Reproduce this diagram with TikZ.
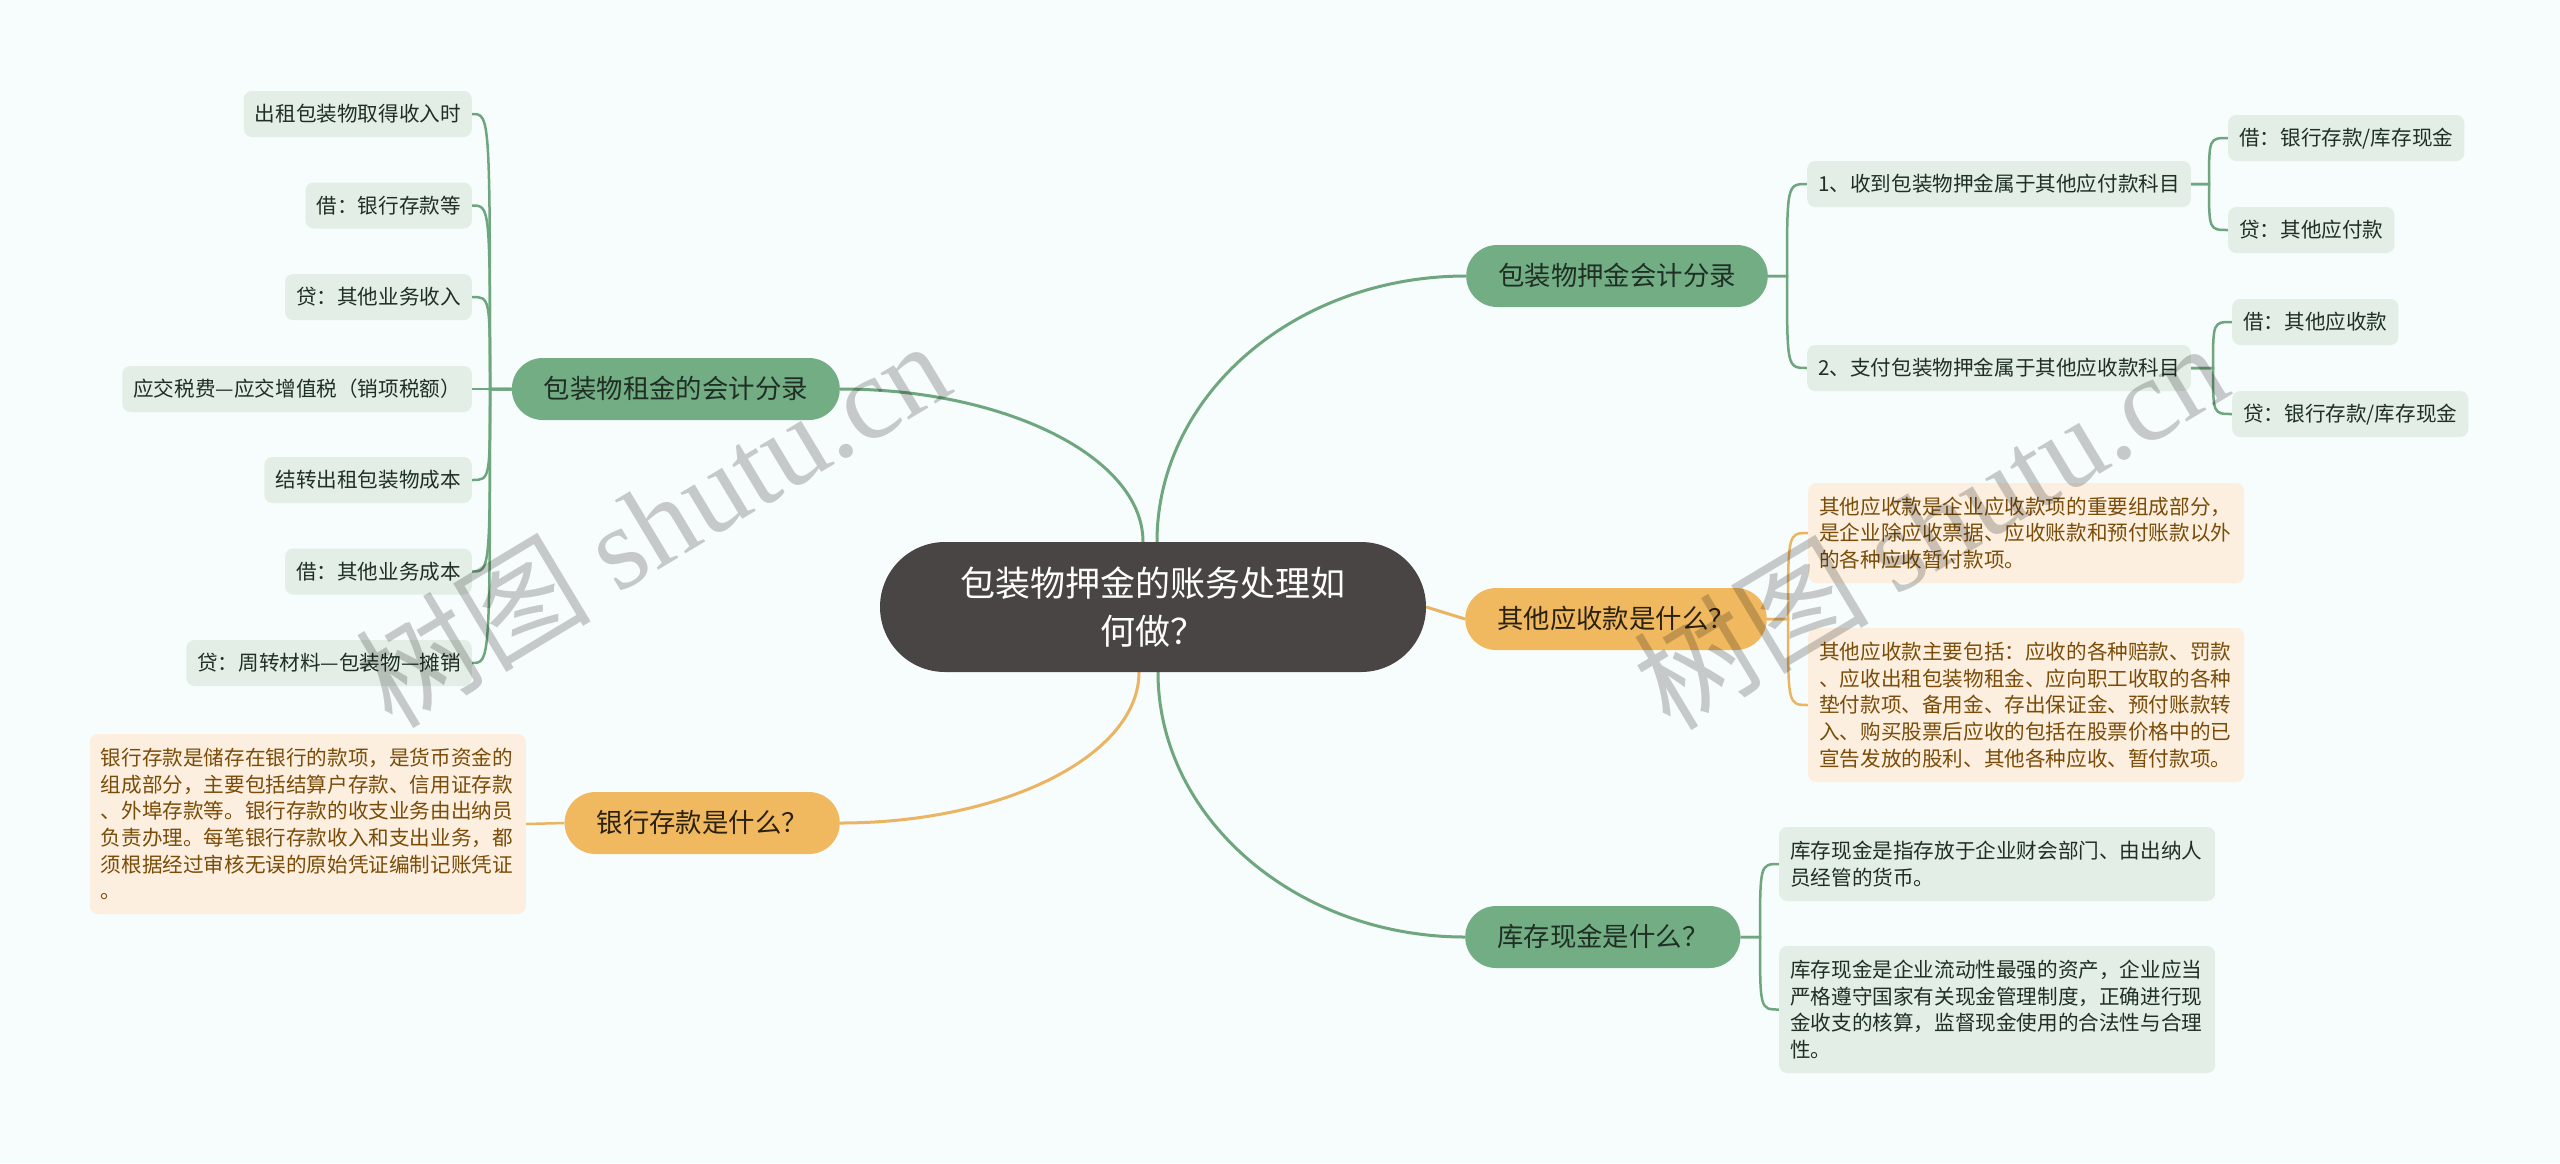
\documentclass[tikz,border=0pt]{standalone}
\usepackage{fontspec}
\setmainfont{Noto Sans CJK SC}
\newfontfamily\wmlat{Liberation Serif}
\pgfdeclarelayer{back}
\pgfdeclarelayer{lines}
\pgfdeclarelayer{front}
\pgfsetlayers{back,lines,main,front}
\definecolor{bgc}{HTML}{F7FCFD}
\definecolor{gpill}{HTML}{72AD84}
\definecolor{gline}{HTML}{6EA67E}
\definecolor{gleaf}{HTML}{E3EFE6}
\definecolor{gtext}{HTML}{1F2F24}
\definecolor{opill}{HTML}{F0B95F}
\definecolor{oline}{HTML}{EBB462}
\definecolor{obox}{HTML}{FCEFDF}
\definecolor{otext}{HTML}{7A4C08}
\definecolor{odark}{HTML}{2A2110}
\definecolor{ctr}{HTML}{4A4545}
\begin{document}
\begin{tikzpicture}[x=1pt,y=-1pt,
  leaf/.style={fill=gleaf, rounded corners=8, text=gtext, font=\fontsize{20.6}{26.7}\selectfont, inner xsep=11, inner ysep=0, minimum height=46, text height=17, text depth=2},
  gpillS/.style={fill=gpill, rounded corners=31, text=gtext, font=\fontsize{26.4}{32}\selectfont, inner xsep=32, inner ysep=0, minimum height=62, text height=22, text depth=2.5},
  opillS/.style={gpillS, fill=opill, text=odark},
  gboxS/.style={fill=gleaf, rounded corners=8, text=gtext, font=\fontsize{20.6}{26.7}\selectfont, align=left, text width=414, inner xsep=11, inner ysep=10},
  oboxS/.style={gboxS, fill=obox, text=otext},
  ctrS/.style={fill=ctr, rounded corners=65, text=white, font=\fontsize{35}{48}\selectfont, align=center, minimum width=546, minimum height=130, inner sep=0},
  gl/.style={draw=gline, line width=3},
  ol/.style={draw=oline, line width=3},
  gls/.style={draw=gline, line width=2.5},
  ols/.style={draw=oline, line width=2.5},
  wm/.style={text=black, text opacity=0.2, rotate=31, inner sep=0}
]
\begin{pgfonlayer}{back}
\fill[bgc] (0,0) rectangle (2560,1163);
\end{pgfonlayer}
\useasboundingbox (0,0) rectangle (2560,1163);

% central
\node[ctrS] (C) at (1153,607) {包装物押金的账务处理如\\何做？};

% left branch 1
\node[gpillS, anchor=east] (L0) at (840,389) {包装物租金的会计分录};
\node[leaf, anchor=east] (l1) at (472,114) {出租包装物取得收入时};
\node[leaf, anchor=east] (l2) at (472,205.5) {借：银行存款等};
\node[leaf, anchor=east] (l3) at (472,297) {贷：其他业务收入};
\node[leaf, anchor=east] (l4) at (472,389) {应交税费—应交增值税（销项税额）};
\node[leaf, anchor=east] (l5) at (472,480) {结转出租包装物成本};
\node[leaf, anchor=east] (l6) at (472,571.5) {借：其他业务成本};
\node[leaf, anchor=east] (l7) at (472,663) {贷：周转材料—包装物—摊销};
\coordinate (sL) at (490,389);

% left branch 2
\node[opillS, anchor=east] (L2) at (840,823) {银行存款是什么？};
\node[oboxS, anchor=east, minimum height=180] (L2a) at (526,824) {银行存款是储存在银行的款项，是货币资金的\\组成部分，主要包括结算户存款、信用证存款\\、外埠存款等。银行存款的收支业务由出纳员\\负责办理。每笔银行存款收入和支出业务，都\\须根据经过审核无误的原始凭证编制记账凭证\\。};

% right branch 1
\node[gpillS, anchor=west] (R1) at (1466,276) {包装物押金会计分录};
\coordinate (s1) at (1787,276);
\node[leaf, anchor=west] (R1a) at (1807,184) {1、收到包装物押金属于其他应付款科目};
\node[leaf, anchor=west] (R1b) at (1807,368) {2、支付包装物押金属于其他应收款科目};
\coordinate (s1a) at (2209,184);
\coordinate (s1b) at (2213,368);
\node[leaf, anchor=west] (R1a1) at (2228,138) {借：银行存款/库存现金};
\node[leaf, anchor=west] (R1a2) at (2228,230) {贷：其他应付款};
\node[leaf, anchor=west] (R1b1) at (2232,322) {借：其他应收款};
\node[leaf, anchor=west] (R1b2) at (2232,414) {贷：银行存款/库存现金};

% right branch 2
\node[opillS, anchor=west] (R2) at (1465,619) {其他应收款是什么？};
\coordinate (s2) at (1788,619);
\node[oboxS, anchor=west, minimum height=100] (R2a) at (1808,533) {其他应收款是企业应收款项的重要组成部分，\\是企业除应收票据、应收账款和预付账款以外\\的各种应收暂付款项。};
\node[oboxS, anchor=west, minimum height=154] (R2b) at (1808,705) {其他应收款主要包括：应收的各种赔款、罚款\\、应收出租包装物租金、应向职工收取的各种\\垫付款项、备用金、存出保证金、预付账款转\\入、购买股票后应收的包括在股票价格中的已\\宣告发放的股利、其他各种应收、暂付款项。};

% right branch 3
\node[gpillS, anchor=west] (R3) at (1465,937) {库存现金是什么？};
\coordinate (s3) at (1760,937);
\node[gboxS, anchor=west, minimum height=74] (R3a) at (1779,864) {库存现金是指存放于企业财会部门、由出纳人\\员经管的货币。};
\node[gboxS, anchor=west, minimum height=127] (R3b) at (1779,1009.5) {库存现金是企业流动性最强的资产，企业应当\\严格遵守国家有关现金管理制度，正确进行现\\金收支的核算，监督现金使用的合法性与合理\\性。};

\begin{pgfonlayer}{lines}
% main connectors
\draw[gl] ([xshift=-10]C.north) .. controls (1143,458) and (1007,389) .. (L0.east);
\draw[gl] ([xshift=4]C.north) .. controls (1157,395) and (1295,276) .. (R1.west);
\draw[ol] (C.east) -- (R2.west);
\draw[gl] ([xshift=5]C.south) .. controls (1158,818) and (1296,937) .. (R3.west);
\draw[ol] ([xshift=-14]C.south) .. controls (1139,755) and (1005,823) .. (L2.east);
% left branch 1
\foreach \c in {l1,l2,l3,l5,l6,l7}
  \draw[gls] (L0.west) -- (sL) .. controls (sL |- \c.east) and (sL |- \c.east) .. (\c.east);
\draw[gls] (L0.west) -- (l4.east);
% left branch 2
\draw[ols] (L2.west) -- (L2a.east);
% right branch 1
\foreach \c in {R1a,R1b}
  \draw[gls] (R1.east) -- (s1) .. controls (s1 |- \c.west) and (s1 |- \c.west) .. (\c.west);
\foreach \c in {R1a1,R1a2}
  \draw[gls] (R1a.east) -- (s1a) .. controls (s1a |- \c.west) and (s1a |- \c.west) .. (\c.west);
\foreach \c in {R1b1,R1b2}
  \draw[gls] (R1b.east) -- (s1b) .. controls (s1b |- \c.west) and (s1b |- \c.west) .. (\c.west);
% right branch 2
\foreach \c in {R2a,R2b}
  \draw[ols] (R2.east) -- (s2) .. controls (s2 |- \c.west) and (s2 |- \c.west) .. (\c.west);
% right branch 3
\foreach \c in {R3a,R3b}
  \draw[gls] (R3.east) -- (s3) .. controls (s3 |- \c.west) and (s3 |- \c.west) .. (\c.west);
\end{pgfonlayer}

\begin{pgfonlayer}{front}
\node[wm] (wm1) at (652,522) {\fontsize{118}{128}\selectfont 树图 {\wmlat shutu.cn}};
\node[wm] (wm2) at (1930,524) {\fontsize{118}{128}\selectfont 树图 {\wmlat shutu.cn}};
\end{pgfonlayer}
\end{tikzpicture}
\end{document}
